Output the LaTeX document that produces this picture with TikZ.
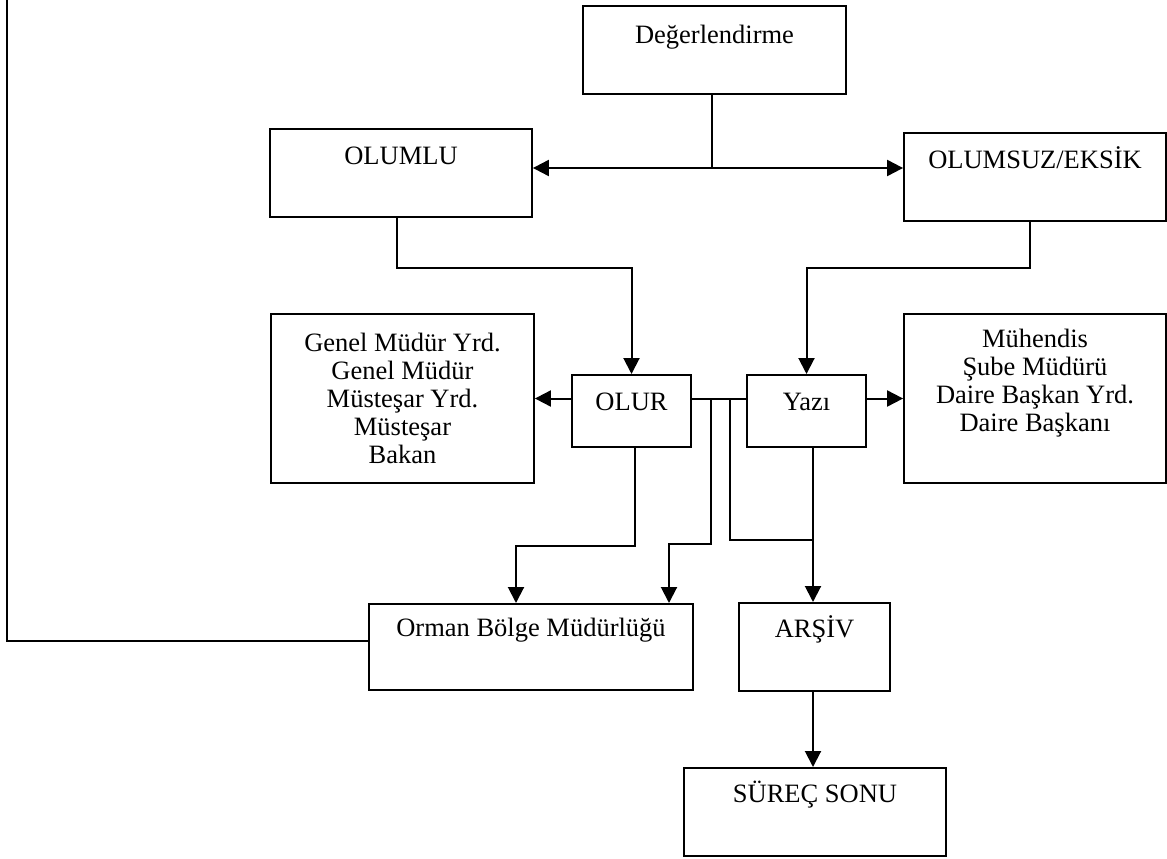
\documentclass[tikz,border=0pt]{standalone}
\usepackage{fontspec}
\setmainfont{Liberation Serif}
\usetikzlibrary{arrows.meta}
\begin{document}
\begin{tikzpicture}[x=1pt,y=-1pt,
  box/.style={draw,line width=1.8pt,rectangle,inner sep=0pt,align=center,
    font=\fontsize{26.5}{28}\selectfont},
  conn/.style={line width=2pt},
  arr/.style={conn,-{Triangle[length=16pt,width=16pt]}}]
\useasboundingbox (0,0) rectangle (1167,859);
% boxes: minimum width, text height/depth fix the position of the text
\node[box,minimum width=263pt,text height=38pt,text depth=50pt] (deg) at (714.5,5) [anchor=north] {Değerlendirme};
\node[box,minimum width=262pt,text height=36pt,text depth=52pt] (olumlu) at (401,128) [anchor=north] {OLUMLU};
\node[box,minimum width=262pt,text height=36pt,text depth=52pt] (olumsuz) at (1035,132) [anchor=north] {OLUMSUZ/EKSİK};
\node[box,minimum width=263pt,minimum height=169pt] (genel) at (402.5,398.5) {Genel Müdür Yrd.\\Genel Müdür\\Müsteşar Yrd.\\Müsteşar\\Bakan};
\node[box,minimum width=262pt,minimum height=169pt] (muh) at (1035,398.5) {Mühendis\\Şube Müdürü\\Daire Başkan Yrd.\\Daire Başkanı\\\strut};
\node[box,minimum width=119pt,text height=36pt,text depth=36pt] (olur) at (631.5,374) [anchor=north] {OLUR};
\node[box,minimum width=119pt,text height=36pt,text depth=36pt] (yazi) at (806.5,374) [anchor=north] {Yazı};
\node[box,minimum width=324pt,text height=33pt,text depth=53pt] (orman) at (531,603) [anchor=north] {Orman Bölge Müdürlüğü};
\node[box,minimum width=151pt,text height=35pt,text depth=53pt] (arsiv) at (814.5,602) [anchor=north] {ARŞİV};
\node[box,minimum width=262pt,text height=35pt,text depth=53pt] (surec) at (815,767) [anchor=north] {SÜREÇ SONU};
% junction coordinates
\coordinate (j1) at (712,168);
\coordinate (c1) at (397,268);
\coordinate (c2) at (1030,268);
\coordinate (d1) at (711,544);
\coordinate (d1b) at (669,544);
\coordinate (d2) at (730,540);
\coordinate (d3) at (813,540);
\coordinate (d4) at (635,546);
\coordinate (d4b) at (516,546);
\coordinate (c5) at (7,641);
\coordinate (ctop) at (7,0);
% connectors
\draw[conn] (j1 |- deg.south) -- (j1);
\draw[arr] (j1) -- (j1 -| olumlu.east);
\draw[arr] (j1) -- (j1 -| olumsuz.west);
\draw[arr] (c1 |- olumlu.south) -- (c1) -| (olur.north);
\draw[arr] (c2 |- olumsuz.south) -- (c2) -| (yazi.north);
\draw[arr] (olur.west |- genel.east) -- (genel.east);
\draw[conn] (olur.east |- genel.east) -- (yazi.west |- genel.east);
\draw[arr] (yazi.east |- muh.west) -- (muh.west);
\draw[arr] (d1 |- genel.east) -- (d1) -- (d1b) -- (d1b |- orman.north);
\draw[conn] (d2 |- genel.east) -- (d2) -- (d3);
\draw[arr] (d3 |- yazi.south) -- (d3 |- arsiv.north);
\draw[arr] (d4 |- olur.south) -- (d4) -- (d4b) -- (d4b |- orman.north);
\draw[arr] (d3 |- arsiv.south) -- (d3 |- surec.north);
\draw[conn] (orman.west |- c5) -- (c5) -- (ctop);
\end{tikzpicture}
\end{document}
